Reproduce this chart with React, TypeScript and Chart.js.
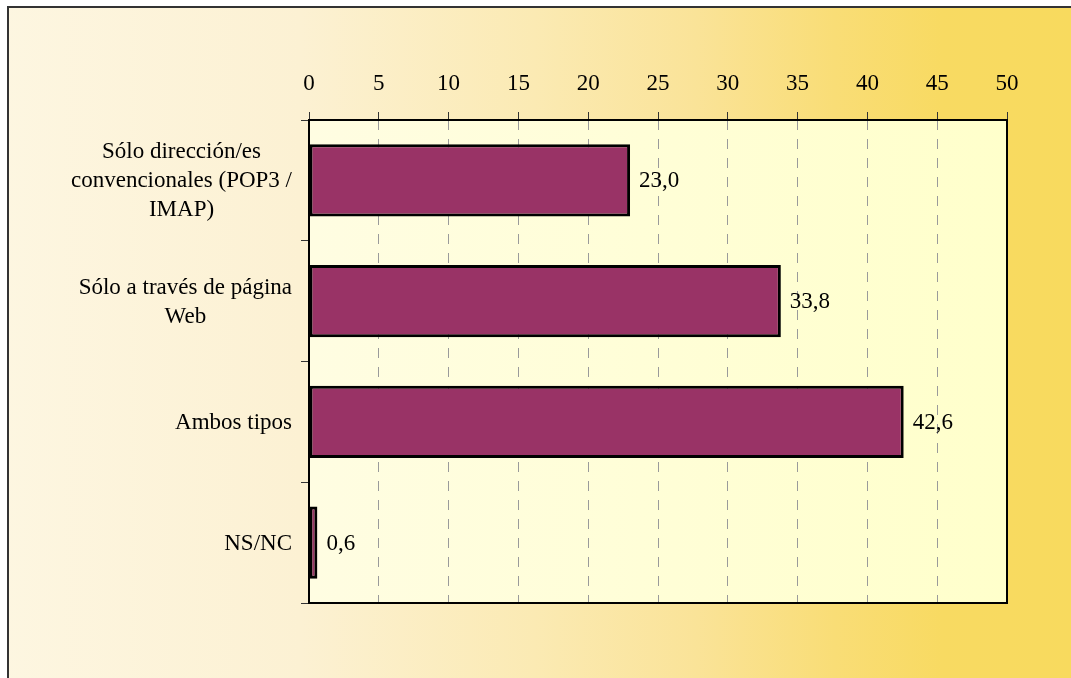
import { useEffect, useRef } from 'react';
import { Chart, registerables } from 'chart.js';

Chart.register(...registerables);

// ---- data ----
const categoryLines: string[][] = [
  ['Sólo dirección/es', 'convencionales (POP3 /', 'IMAP)'],
  ['Sólo a través de página', 'Web'],
  ['Ambos tipos'],
  ['NS/NC'],
];
const values: number[] = [23.0, 33.8, 42.6, 0.6];
const xMin = 0;
const xMax = 50;
const xStep = 5;

const FONT = '"Liberation Serif", "Times New Roman", serif';
const FS = 23;

function fmt(v: number): string {
  return v.toFixed(1).replace('.', ',');
}

export default function App() {
  const ref = useRef<HTMLCanvasElement | null>(null);

  useEffect(() => {
    const canvas = ref.current;
    if (!canvas) return;

    const bgPlugin = {
      id: 'bgPlugin',
      beforeDraw(chart: any) {
        const { ctx, width, height, chartArea: a } = chart;
        ctx.save();
        const g = ctx.createLinearGradient(0, 0, width, 0);
        g.addColorStop(0, '#FDF6E1');
        g.addColorStop(0.28, '#FCF1D3');
        g.addColorStop(0.5, '#FBEAB3');
        g.addColorStop(0.65, '#FAE398');
        g.addColorStop(0.78, '#F9DD76');
        g.addColorStop(0.88, '#F8DA62');
        g.addColorStop(1, '#F8DA5E');
        ctx.fillStyle = g;
        ctx.fillRect(0, 0, width, height);
        ctx.fillStyle = '#ffffff';
        ctx.fillRect(0, 0, width, 6);
        ctx.fillRect(0, 0, 7, height);
        ctx.fillStyle = '#333333';
        ctx.fillRect(7, 6, width - 7, 2);
        ctx.fillRect(7, 6, 2, height - 6);
        const pg = ctx.createLinearGradient(a.left, 0, a.right, 0);
        pg.addColorStop(0, '#FFFDE2');
        pg.addColorStop(1, '#FFFFCB');
        ctx.fillStyle = pg;
        ctx.fillRect(a.left, a.top, a.right - a.left, a.bottom - a.top);
        ctx.restore();
      },
      afterDatasetsDraw(chart: any) {
        const { ctx, chartArea: a } = chart;
        ctx.save();
        // plot frame
        ctx.strokeStyle = '#000000';
        ctx.lineWidth = 2;
        ctx.strokeRect(a.left, a.top, a.right - a.left, a.bottom - a.top);

        // data labels
        ctx.fillStyle = '#000000';
        ctx.font = `${FS}px ${FONT}`;
        ctx.textAlign = 'left';
        ctx.textBaseline = 'middle';
        const meta = chart.getDatasetMeta(0);
        meta.data.forEach((bar: any, i: number) => {
          ctx.fillText(fmt(values[i]), bar.x + 9, bar.y + 1);
        });

        // category labels (lines centred, block right-aligned)
        const yScale = chart.scales.y;
        const rightEdge = a.left - 17;
        const lh = 29;
        categoryLines.forEach((lines, i) => {
          const cy = yScale.getPixelForTick(i);
          const widest = Math.max(...lines.map((l) => ctx.measureText(l).width));
          const cx = rightEdge - widest / 2;
          ctx.textAlign = 'center';
          const y0 = cy - ((lines.length - 1) * lh) / 2;
          lines.forEach((l, j) => {
            ctx.fillText(l, cx, y0 + j * lh + 1);
          });
        });
        ctx.restore();
      },
    };

    const chart = new Chart(canvas, {
      type: 'bar',
      data: {
        labels: categoryLines.map((l) => l.join(' ')),
        datasets: [
          {
            data: values,
            backgroundColor: '#993366',
            borderColor: '#000000',
            borderWidth: 3,
            borderSkipped: false,
            barPercentage: 0.6,
            categoryPercentage: 1,
          },
        ],
      },
      options: {
        indexAxis: 'y',
        responsive: false,
        animation: false,
        devicePixelRatio: 1,
        layout: { padding: { left: 0, top: 0, right: 64, bottom: 75 } },
        plugins: {
          legend: { display: false },
          tooltip: { enabled: false },
        },
        scales: {
          x: {
            type: 'linear',
            position: 'top',
            min: xMin,
            max: xMax,
            ticks: {
              stepSize: xStep,
              color: '#000000',
              font: { family: FONT, size: FS },
              padding: 14,
              maxRotation: 0,
              callback: (v: any) => String(v),
            },
            grid: {
              display: true,
              drawOnChartArea: true,
              drawTicks: true,
              tickLength: 8,
              color: '#9a9a9a',
              lineWidth: 1,
              tickColor: '#333333',
              tickWidth: 1,
            },
            border: { display: false, dash: [10, 9] },
            afterFit: (s: any) => {
              s.height = 120;
            },
          },
          y: {
            type: 'category',
            position: 'left',
            ticks: { display: false },
            grid: {
              display: true,
              drawOnChartArea: false,
              drawTicks: true,
              tickLength: 8,
              tickColor: '#333333',
              tickWidth: 1,
              offset: true,
            },
            border: { display: false },
            afterFit: (s: any) => {
              s.width = 309;
            },
          },
        },
      },
      plugins: [bgPlugin],
    } as any);

    return () => chart.destroy();
  }, []);

  return (
    <div style={{ position: 'absolute', left: 0, top: 0, width: 1071, height: 678 }}>
      <canvas ref={ref} width={1071} height={678} style={{ display: 'block', width: 1071, height: 678 }} />
    </div>
  );
}
